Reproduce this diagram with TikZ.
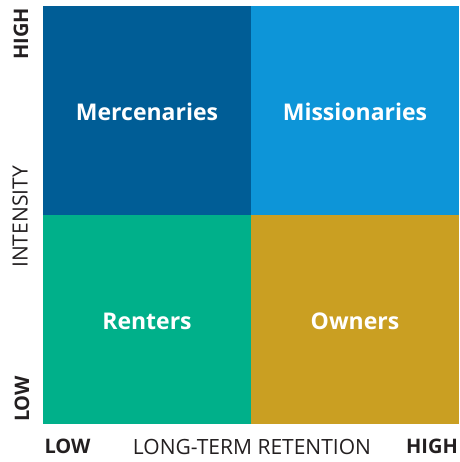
\documentclass[tikz,border=0pt]{standalone}
\usepackage{fontspec}
\setmainfont{Open Sans}
\definecolor{cTL}{HTML}{005D96}
\definecolor{cTR}{HTML}{0D95D8}
\definecolor{cBL}{HTML}{00B08A}
\definecolor{cBR}{HTML}{CA9F22}
\definecolor{txt}{HTML}{231F20}
\begin{document}
\begin{tikzpicture}[x=1pt,y=-1pt,
  quad/.style={inner sep=0pt,outer sep=0pt},
  qlabel/.style={text=white,font=\fontsize{23}{26}\selectfont\bfseries},
  axbold/.style={text=txt,font=\fontsize{20}{22}\selectfont\bfseries,inner sep=0pt},
  axreg/.style={text=txt,font=\fontsize{21}{23}\selectfont,inner sep=0pt}]
\useasboundingbox (0,0) rectangle (459,462);
\fill[cTL] (43,6) rectangle (251,215);
\fill[cTR] (251,6) rectangle (459,215);
\fill[cBL] (43,215) rectangle (251,424);
\fill[cBR] (251,215) rectangle (459,424);
\node[qlabel] (merc) at (147,112) {Mercenaries};
\node[qlabel] (miss) at (355,112) {Missionaries};
\node[qlabel] (rent) at (147,321) {Renters};
\node[qlabel] (own) at (355,321) {Owners};
\node[axbold,rotate=90] (yhigh) at (21,34) {HIGH};
\node[axbold,rotate=90] (ylow) at (22,399) {LOW};
\node[axreg,rotate=90] (yint) at (20,217) {INTENSITY};
\node[axbold] (xlow) at (67.5,446.5) {LOW};
\node[axreg] (xret) at (252,446.5) {LONG-TERM RETENTION};
\node[axbold] (xhigh) at (432,446.5) {HIGH};
\end{tikzpicture}
\end{document}
